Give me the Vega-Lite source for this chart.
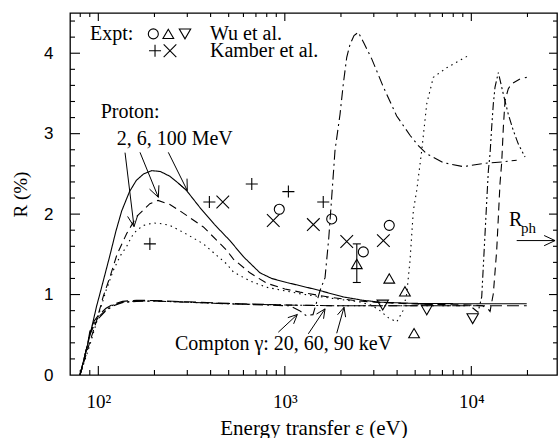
{
  "$schema": "https://vega.github.io/schema/vega-lite/v6.json",
  "width": 487,
  "height": 362,
  "autosize": {"type": "none"},
  "padding": {"left": 70, "top": 13, "right": 1, "bottom": 63},
  "background": "white",
  "config": {
    "view": {"stroke": "black", "strokeWidth": 1.3},
    "axis": {"grid": false, "labelColor": "black", "titleColor": "black"}
  },
  "datasets": {
    "curves": [
      {"s": "p100", "x": 79.8, "y": 0}, {"s": "p100", "x": 90.3, "y": 0.5}, {"s": "p100", "x": 98, "y": 0.86}, {"s": "p100", "x": 102, "y": 1.01}, {"s": "p100", "x": 115.5, "y": 1.49}, {"s": "p100", "x": 124, "y": 1.78}, {"s": "p100", "x": 133.5, "y": 2.04}, {"s": "p100", "x": 147, "y": 2.28}, {"s": "p100", "x": 160, "y": 2.42}, {"s": "p100", "x": 175, "y": 2.5}, {"s": "p100", "x": 193, "y": 2.54}, {"s": "p100", "x": 215, "y": 2.53}, {"s": "p100", "x": 242, "y": 2.47}, {"s": "p100", "x": 270, "y": 2.38}, {"s": "p100", "x": 298, "y": 2.29}, {"s": "p100", "x": 351, "y": 2.08}, {"s": "p100", "x": 420, "y": 1.87}, {"s": "p100", "x": 508, "y": 1.67}, {"s": "p100", "x": 600, "y": 1.47}, {"s": "p100", "x": 736, "y": 1.27}, {"s": "p100", "x": 850, "y": 1.2}, {"s": "p100", "x": 1024, "y": 1.15}, {"s": "p100", "x": 1483, "y": 1.06}, {"s": "p100", "x": 2060, "y": 0.97}, {"s": "p100", "x": 2600, "y": 0.93}, {"s": "p100", "x": 3236, "y": 0.905}, {"s": "p100", "x": 5000, "y": 0.89}, {"s": "p100", "x": 10000, "y": 0.885}, {"s": "p100", "x": 19820, "y": 0.885},

      {"s": "p6", "x": 79.8, "y": 0}, {"s": "p6", "x": 90.3, "y": 0.42}, {"s": "p6", "x": 98, "y": 0.68}, {"s": "p6", "x": 106.4, "y": 0.98}, {"s": "p6", "x": 115.5, "y": 1.22}, {"s": "p6", "x": 126, "y": 1.5}, {"s": "p6", "x": 142, "y": 1.76}, {"s": "p6", "x": 160.6, "y": 1.97}, {"s": "p6", "x": 189, "y": 2.13}, {"s": "p6", "x": 209, "y": 2.17}, {"s": "p6", "x": 242, "y": 2.12}, {"s": "p6", "x": 274, "y": 2.04}, {"s": "p6", "x": 366, "y": 1.84}, {"s": "p6", "x": 488, "y": 1.55}, {"s": "p6", "x": 530, "y": 1.44}, {"s": "p6", "x": 650, "y": 1.27}, {"s": "p6", "x": 800, "y": 1.14}, {"s": "p6", "x": 1000, "y": 1.07}, {"s": "p6", "x": 1206, "y": 1.03}, {"s": "p6", "x": 1820, "y": 0.96}, {"s": "p6", "x": 2500, "y": 0.92}, {"s": "p6", "x": 3238, "y": 0.9}, {"s": "p6", "x": 5400, "y": 0.88}, {"s": "p6", "x": 9846, "y": 0.87}, {"s": "p6", "x": 11500, "y": 0.86}, {"s": "p6", "x": 12300, "y": 0.82}, {"s": "p6", "x": 12600, "y": 0.79}, {"s": "p6", "x": 13120, "y": 1.01}, {"s": "p6", "x": 13680, "y": 1.55}, {"s": "p6", "x": 13960, "y": 1.96}, {"s": "p6", "x": 14250, "y": 2.38}, {"s": "p6", "x": 14550, "y": 2.64}, {"s": "p6", "x": 14850, "y": 3.08}, {"s": "p6", "x": 15160, "y": 3.41}, {"s": "p6", "x": 15790, "y": 3.56}, {"s": "p6", "x": 16480, "y": 3.62}, {"s": "p6", "x": 18250, "y": 3.68}, {"s": "p6", "x": 19820, "y": 3.7},

      {"s": "p2", "x": 79.8, "y": 0}, {"s": "p2", "x": 90.3, "y": 0.38}, {"s": "p2", "x": 102, "y": 0.8}, {"s": "p2", "x": 110, "y": 1.05}, {"s": "p2", "x": 120.3, "y": 1.3}, {"s": "p2", "x": 131, "y": 1.48}, {"s": "p2", "x": 142, "y": 1.6}, {"s": "p2", "x": 151, "y": 1.72}, {"s": "p2", "x": 160.6, "y": 1.8}, {"s": "p2", "x": 175, "y": 1.86}, {"s": "p2", "x": 197, "y": 1.89}, {"s": "p2", "x": 220, "y": 1.88}, {"s": "p2", "x": 242, "y": 1.86}, {"s": "p2", "x": 298, "y": 1.75}, {"s": "p2", "x": 366, "y": 1.63}, {"s": "p2", "x": 488, "y": 1.38}, {"s": "p2", "x": 530, "y": 1.28}, {"s": "p2", "x": 650, "y": 1.17}, {"s": "p2", "x": 800, "y": 1.09}, {"s": "p2", "x": 1206, "y": 1.01}, {"s": "p2", "x": 1820, "y": 0.95}, {"s": "p2", "x": 2500, "y": 0.91}, {"s": "p2", "x": 2900, "y": 0.87}, {"s": "p2", "x": 3238, "y": 0.8}, {"s": "p2", "x": 3600, "y": 0.71}, {"s": "p2", "x": 3980, "y": 0.66}, {"s": "p2", "x": 4300, "y": 0.8}, {"s": "p2", "x": 4505, "y": 1.01}, {"s": "p2", "x": 4690, "y": 1.42}, {"s": "p2", "x": 4887, "y": 2.04}, {"s": "p2", "x": 5100, "y": 2.3}, {"s": "p2", "x": 5421, "y": 2.79}, {"s": "p2", "x": 5767, "y": 3.37}, {"s": "p2", "x": 6255, "y": 3.7}, {"s": "p2", "x": 7383, "y": 3.82}, {"s": "p2", "x": 8500, "y": 3.9}, {"s": "p2", "x": 9640, "y": 3.97},

      {"s": "c20", "x": 79.8, "y": 0}, {"s": "c20", "x": 87.6, "y": 0.38}, {"s": "c20", "x": 90, "y": 0.5}, {"s": "c20", "x": 95, "y": 0.62}, {"s": "c20", "x": 100, "y": 0.7}, {"s": "c20", "x": 110, "y": 0.8}, {"s": "c20", "x": 120, "y": 0.86}, {"s": "c20", "x": 135, "y": 0.9}, {"s": "c20", "x": 160, "y": 0.915}, {"s": "c20", "x": 200, "y": 0.92}, {"s": "c20", "x": 300, "y": 0.905}, {"s": "c20", "x": 500, "y": 0.885}, {"s": "c20", "x": 800, "y": 0.87}, {"s": "c20", "x": 1066, "y": 0.86}, {"s": "c20", "x": 1200, "y": 0.8}, {"s": "c20", "x": 1299, "y": 0.74}, {"s": "c20", "x": 1416, "y": 0.75}, {"s": "c20", "x": 1545, "y": 1.05}, {"s": "c20", "x": 1643, "y": 1.21}, {"s": "c20", "x": 1720, "y": 1.7}, {"s": "c20", "x": 1784, "y": 2.21}, {"s": "c20", "x": 1858, "y": 2.79}, {"s": "c20", "x": 1977, "y": 3.24}, {"s": "c20", "x": 2059, "y": 3.62}, {"s": "c20", "x": 2148, "y": 3.95}, {"s": "c20", "x": 2237, "y": 4.11}, {"s": "c20", "x": 2350, "y": 4.22}, {"s": "c20", "x": 2478, "y": 4.26}, {"s": "c20", "x": 2650, "y": 4.13}, {"s": "c20", "x": 2924, "y": 3.93}, {"s": "c20", "x": 3376, "y": 3.58}, {"s": "c20", "x": 3980, "y": 3.22}, {"s": "c20", "x": 4690, "y": 2.98}, {"s": "c20", "x": 5200, "y": 2.85}, {"s": "c20", "x": 5767, "y": 2.75}, {"s": "c20", "x": 7080, "y": 2.64}, {"s": "c20", "x": 9058, "y": 2.59}, {"s": "c20", "x": 11590, "y": 2.63}, {"s": "c20", "x": 14790, "y": 2.65}, {"s": "c20", "x": 17510, "y": 2.67},

      {"s": "c60", "x": 79.8, "y": 0}, {"s": "c60", "x": 87.6, "y": 0.38}, {"s": "c60", "x": 90, "y": 0.52}, {"s": "c60", "x": 95, "y": 0.64}, {"s": "c60", "x": 100, "y": 0.72}, {"s": "c60", "x": 110, "y": 0.81}, {"s": "c60", "x": 120, "y": 0.87}, {"s": "c60", "x": 135, "y": 0.905}, {"s": "c60", "x": 160, "y": 0.92}, {"s": "c60", "x": 200, "y": 0.92}, {"s": "c60", "x": 300, "y": 0.905}, {"s": "c60", "x": 500, "y": 0.885}, {"s": "c60", "x": 1000, "y": 0.87}, {"s": "c60", "x": 2000, "y": 0.86}, {"s": "c60", "x": 5000, "y": 0.86}, {"s": "c60", "x": 9846, "y": 0.86}, {"s": "c60", "x": 10860, "y": 0.78}, {"s": "c60", "x": 11370, "y": 0.97}, {"s": "c60", "x": 11590, "y": 1.34}, {"s": "c60", "x": 11840, "y": 1.75}, {"s": "c60", "x": 12100, "y": 2.17}, {"s": "c60", "x": 12340, "y": 2.54}, {"s": "c60", "x": 12600, "y": 2.75}, {"s": "c60", "x": 12860, "y": 3.08}, {"s": "c60", "x": 13120, "y": 3.37}, {"s": "c60", "x": 13400, "y": 3.58}, {"s": "c60", "x": 13960, "y": 3.76}, {"s": "c60", "x": 14850, "y": 3.49}, {"s": "c60", "x": 15790, "y": 3.24}, {"s": "c60", "x": 16790, "y": 3.04}, {"s": "c60", "x": 17870, "y": 2.87}, {"s": "c60", "x": 19410, "y": 2.71},

      {"s": "c90", "x": 79.8, "y": 0}, {"s": "c90", "x": 87.6, "y": 0.38}, {"s": "c90", "x": 90, "y": 0.54}, {"s": "c90", "x": 95, "y": 0.67}, {"s": "c90", "x": 100, "y": 0.74}, {"s": "c90", "x": 110, "y": 0.83}, {"s": "c90", "x": 120, "y": 0.88}, {"s": "c90", "x": 135, "y": 0.915}, {"s": "c90", "x": 160, "y": 0.93}, {"s": "c90", "x": 200, "y": 0.925}, {"s": "c90", "x": 300, "y": 0.91}, {"s": "c90", "x": 500, "y": 0.89}, {"s": "c90", "x": 1000, "y": 0.87}, {"s": "c90", "x": 2000, "y": 0.86}, {"s": "c90", "x": 5000, "y": 0.86}, {"s": "c90", "x": 10000, "y": 0.86}, {"s": "c90", "x": 19820, "y": 0.86}
    ],
    "points": [
      {"k": "circle", "x": 934, "y": 2.06}, {"k": "circle", "x": 1784, "y": 1.94}, {"k": "circle", "x": 2636, "y": 1.53}, {"k": "circle", "x": 3631, "y": 1.86},
      {"k": "up", "x": 2432, "y": 1.38}, {"k": "up", "x": 3631, "y": 1.2}, {"k": "up", "x": 4406, "y": 1.04}, {"k": "up", "x": 4932, "y": 0.52},
      {"k": "down", "x": 3350, "y": 0.87}, {"k": "down", "x": 5767, "y": 0.81}, {"k": "down", "x": 10170, "y": 0.7},
      {"k": "plus", "x": 189, "y": 1.63}, {"k": "plus", "x": 394, "y": 2.15}, {"k": "plus", "x": 665, "y": 2.375}, {"k": "plus", "x": 1045, "y": 2.28}, {"k": "plus", "x": 1607, "y": 2.15},
      {"k": "cross", "x": 465, "y": 2.15}, {"k": "cross", "x": 867, "y": 1.92}, {"k": "cross", "x": 1422, "y": 1.87}, {"k": "cross", "x": 2148, "y": 1.66}, {"k": "cross", "x": 3376, "y": 1.67},
      {"k": "circle", "x": 197.2, "y": 4.24}, {"k": "up", "x": 237.3, "y": 4.24}, {"k": "down", "x": 291.6, "y": 4.24},
      {"k": "plus", "x": 201.4, "y": 4.03}, {"k": "cross", "x": 242.3, "y": 4.03}
    ],
    "errbar": [{"x": 2432, "lo": 1.15, "hi": 1.63}],
    "arrows": [
      {"x": 139.1, "y": 2.764, "x2": 155.4, "y2": 1.845}, {"x": 155.4, "y": 1.845, "x2": 162.7, "y2": 1.986}, {"x": 155.4, "y": 1.845, "x2": 143.6, "y2": 1.971},
      {"x": 167.3, "y": 2.768, "x2": 209.8, "y2": 2.209}, {"x": 209.8, "y": 2.209, "x2": 211.3, "y2": 2.358}, {"x": 209.8, "y": 2.209, "x2": 188.2, "y2": 2.311},
      {"x": 237.3, "y": 2.768, "x2": 300.1, "y2": 2.292}, {"x": 300.1, "y": 2.292, "x2": 299.0, "y2": 2.441}, {"x": 300.1, "y": 2.292, "x2": 267.2, "y2": 2.385},
      {"x": 922.7, "y": 0.532, "x2": 1167, "y2": 0.752}, {"x": 1167, "y": 0.752, "x2": 1038, "y2": 0.713}, {"x": 1167, "y": 0.752, "x2": 1115, "y2": 0.636},
      {"x": 1337, "y": 0.512, "x2": 1643, "y2": 0.822}, {"x": 1643, "y": 0.822, "x2": 1479, "y2": 0.758}, {"x": 1643, "y": 0.822, "x2": 1613, "y2": 0.699},
      {"x": 1898, "y": 0.519, "x2": 2077, "y2": 0.842}, {"x": 2077, "y": 0.842, "x2": 1917, "y2": 0.748}, {"x": 2077, "y": 0.842, "x2": 2118, "y2": 0.719},
      {"x": 17510, "y": 1.671, "x2": 28110, "y2": 1.671}, {"x": 28110, "y": 1.671, "x2": 24570, "y2": 1.734}, {"x": 28110, "y": 1.671, "x2": 24570, "y2": 1.607}
    ],
    "labels": [
      {"t": "Expt:", "x": 90.3, "y": 4.24},
      {"t": "Wu et al.", "x": 397, "y": 4.24},
      {"t": "Kamber et al.", "x": 397, "y": 4.03},
      {"t": "Proton:", "x": 103, "y": 3.265},
      {"t": "2, 6, 100 MeV", "x": 125.5, "y": 2.934},
      {"t": "Compton γ: 20, 60, 90 keV", "x": 257.8, "y": 0.388}
    ],
    "xmajor": [{"v": 100}, {"v": 1000}, {"v": 10000}],
    "xminor": [{"v": 80}, {"v": 90}, {"v": 200}, {"v": 300}, {"v": 400}, {"v": 500}, {"v": 600}, {"v": 700}, {"v": 800}, {"v": 900}, {"v": 2000}, {"v": 3000}, {"v": 4000}, {"v": 5000}, {"v": 6000}, {"v": 7000}, {"v": 8000}, {"v": 9000}, {"v": 20000}],
    "ymajor": [{"v": 1}, {"v": 2}, {"v": 3}, {"v": 4}],
    "yminor": [{"v": 0.2}, {"v": 0.4}, {"v": 0.6}, {"v": 0.8}, {"v": 1.2}, {"v": 1.4}, {"v": 1.6}, {"v": 1.8}, {"v": 2.2}, {"v": 2.4}, {"v": 2.6}, {"v": 2.8}, {"v": 3.2}, {"v": 3.4}, {"v": 3.6}, {"v": 3.8}, {"v": 4.2}, {"v": 4.4}]
  },
  "layer": [
    {
      "data": {"name": "curves"},
      "mark": {"type": "line", "color": "black", "strokeWidth": 1.1, "clip": true},
      "encoding": {
        "x": {"field": "x", "type": "quantitative", "scale": {"type": "log", "domain": [70.5, 28800], "nice": false},
          "axis": {"orient": "bottom", "values": [100, 1000, 10000], "ticks": true, "tickSize": 0, "domain": false,
            "labelExpr": "datum.value == 100 ? '10²' : datum.value == 1000 ? '10³' : '10⁴'",
            "labelPadding": 17, "labelFont": "Liberation Serif", "labelFontSize": 19, "labelBaseline": "top", "labelFlush": false,
            "title": "Energy transfer ε (eV)", "titleFont": "Liberation Serif", "titleFontSize": 21, "titleFontWeight": "normal",
            "titleX": 243.5, "titleY": 53, "titleBaseline": "middle", "titleAlign": "center"}},
        "y": {"field": "y", "type": "quantitative", "scale": {"domain": [0, 4.5], "nice": false, "zero": false},
          "axis": {"orient": "left", "values": [0, 1, 2, 3, 4], "ticks": true, "tickSize": 0, "domain": false,
            "labelPadding": 17, "labelFont": "Liberation Sans", "labelFontSize": 17, "labelFlush": false,
            "title": "R (%)", "titleFont": "Liberation Serif", "titleFontSize": 19, "titleFontWeight": "normal",
            "titleX": -50, "titleY": 181, "titleAngle": -90, "titleAlign": "center", "titleBaseline": "middle"}},
        "detail": {"field": "s"},
        "strokeDash": {"field": "s", "type": "nominal", "legend": null,
          "scale": {"domain": ["p100", "p6", "p2", "c20", "c60", "c90"], "range": [[1, 0], [8, 5], [1.5, 4], [10, 4, 2, 4], [8, 3, 2, 3, 2, 3], [12, 5]]}}
      }
    },
    {
      "data": {"name": "xmajor"},
      "mark": {"type": "rule", "color": "black", "strokeWidth": 1.1},
      "encoding": {
        "x": {"field": "v", "type": "quantitative", "axis": null},
        "y": {"datum": 0, "type": "quantitative", "axis": null},
        "y2": {"datum": 0.112}
      }
    },
    {
      "data": {"name": "xmajor"},
      "mark": {"type": "rule", "color": "black", "strokeWidth": 1.1},
      "encoding": {
        "x": {"field": "v", "type": "quantitative", "axis": null},
        "y": {"datum": 4.5, "type": "quantitative", "axis": null},
        "y2": {"datum": 4.4}
      }
    },
    {
      "data": {"name": "xminor"},
      "mark": {"type": "rule", "color": "black", "strokeWidth": 1.1},
      "encoding": {
        "x": {"field": "v", "type": "quantitative", "axis": null},
        "y": {"datum": 0, "type": "quantitative", "axis": null},
        "y2": {"datum": 0.062}
      }
    },
    {
      "data": {"name": "xminor"},
      "mark": {"type": "rule", "color": "black", "strokeWidth": 1.1},
      "encoding": {
        "x": {"field": "v", "type": "quantitative", "axis": null},
        "y": {"datum": 4.5, "type": "quantitative", "axis": null},
        "y2": {"datum": 4.45}
      }
    },
    {
      "data": {"name": "ymajor"},
      "mark": {"type": "rule", "color": "black", "strokeWidth": 1.1},
      "encoding": {
        "y": {"field": "v", "type": "quantitative", "axis": null},
        "x": {"datum": 70.5, "type": "quantitative", "axis": null},
        "x2": {"datum": 79.77}
      }
    },
    {
      "data": {"name": "ymajor"},
      "mark": {"type": "rule", "color": "black", "strokeWidth": 1.1},
      "encoding": {
        "y": {"field": "v", "type": "quantitative", "axis": null},
        "x": {"datum": 28800, "type": "quantitative", "axis": null},
        "x2": {"datum": 26094}
      }
    },
    {
      "data": {"name": "yminor"},
      "mark": {"type": "rule", "color": "black", "strokeWidth": 1.1},
      "encoding": {
        "y": {"field": "v", "type": "quantitative", "axis": null},
        "x": {"datum": 70.5, "type": "quantitative", "axis": null},
        "x2": {"datum": 74.99}
      }
    },
    {
      "data": {"name": "yminor"},
      "mark": {"type": "rule", "color": "black", "strokeWidth": 1.1},
      "encoding": {
        "y": {"field": "v", "type": "quantitative", "axis": null},
        "x": {"datum": 28800, "type": "quantitative", "axis": null},
        "x2": {"datum": 27414}
      }
    },
    {
      "data": {"name": "errbar"},
      "mark": {"type": "rule", "color": "black", "strokeWidth": 1.1},
      "encoding": {
        "x": {"field": "x", "type": "quantitative", "axis": null},
        "y": {"field": "lo", "type": "quantitative", "axis": null},
        "y2": {"field": "hi"}
      }
    },
    {
      "data": {"name": "errbar"},
      "mark": {"type": "point", "shape": "M-1,0H1", "size": 64, "color": "black", "strokeWidth": 1.1, "filled": false, "opacity": 1},
      "encoding": {
        "x": {"field": "x", "type": "quantitative", "axis": null},
        "y": {"field": "lo", "type": "quantitative", "axis": null}
      }
    },
    {
      "data": {"name": "errbar"},
      "mark": {"type": "point", "shape": "M-1,0H1", "size": 64, "color": "black", "strokeWidth": 1.1, "filled": false, "opacity": 1},
      "encoding": {
        "x": {"field": "x", "type": "quantitative", "axis": null},
        "y": {"field": "hi", "type": "quantitative", "axis": null}
      }
    },
    {
      "data": {"name": "points"},
      "mark": {"type": "point", "filled": false, "color": "black", "strokeWidth": 1.1, "opacity": 1},
      "encoding": {
        "x": {"field": "x", "type": "quantitative", "axis": null},
        "y": {"field": "y", "type": "quantitative", "axis": null},
        "shape": {"field": "k", "type": "nominal", "legend": null,
          "scale": {"domain": ["circle", "up", "down", "plus", "cross"], "range": ["circle", "triangle-up", "triangle-down", "M-1,0H1M0,-1V1", "M-1,-1L1,1M-1,1L1,-1"]}},
        "size": {"field": "k", "type": "nominal", "legend": null,
          "scale": {"domain": ["circle", "up", "down", "plus", "cross"], "range": [100, 160, 160, 100, 81]}}
      }
    },
    {
      "data": {"name": "arrows"},
      "mark": {"type": "rule", "color": "black", "strokeWidth": 1},
      "encoding": {
        "x": {"field": "x", "type": "quantitative", "axis": null},
        "y": {"field": "y", "type": "quantitative", "axis": null},
        "x2": {"field": "x2"},
        "y2": {"field": "y2"}
      }
    },
    {
      "data": {"name": "labels"},
      "mark": {"type": "text", "align": "left", "baseline": "middle", "font": "Liberation Serif", "fontSize": 20, "color": "black"},
      "encoding": {
        "x": {"field": "x", "type": "quantitative", "axis": null},
        "y": {"field": "y", "type": "quantitative", "axis": null},
        "text": {"field": "t"}
      }
    },
    {
      "data": {"values": [{"t": "R", "x": 15930, "y": 1.857}]},
      "mark": {"type": "text", "align": "left", "baseline": "alphabetic", "font": "Liberation Serif", "fontSize": 20, "color": "black"},
      "encoding": {
        "x": {"field": "x", "type": "quantitative", "axis": null},
        "y": {"field": "y", "type": "quantitative", "axis": null},
        "text": {"field": "t"}
      }
    },
    {
      "data": {"values": [{"t": "ph", "x": 18470, "y": 1.77}]},
      "mark": {"type": "text", "align": "left", "baseline": "alphabetic", "font": "Liberation Serif", "fontSize": 15, "color": "black"},
      "encoding": {
        "x": {"field": "x", "type": "quantitative", "axis": null},
        "y": {"field": "y", "type": "quantitative", "axis": null},
        "text": {"field": "t"}
      }
    }
  ],
  "resolve": {"axis": {"x": "independent", "y": "independent"}}
}
